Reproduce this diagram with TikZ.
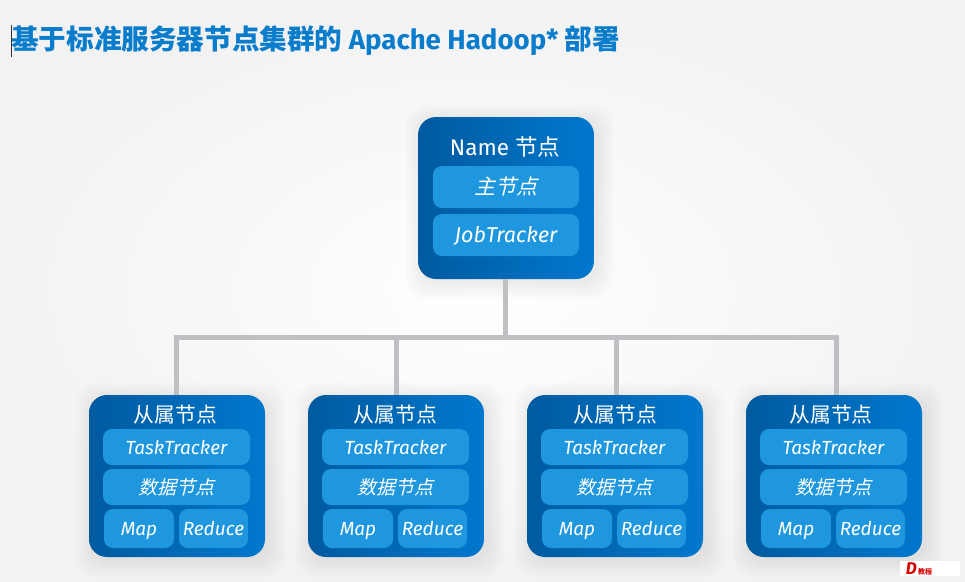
\documentclass[tikz,border=0pt]{standalone}
\usepackage{fontspec}
\setmainfont{Fira Sans}
\newfontfamily\cjk{Noto Sans CJK SC}
\newfontfamily\cjkit[FakeSlant=0.25]{Noto Sans CJK SC}
\definecolor{hbleft}{HTML}{005A9F}
\definecolor{hbright}{HTML}{0078CE}
\definecolor{hbinner}{HTML}{1F97DF}
\definecolor{hbline}{HTML}{BFC0C4}
\definecolor{hbtitle}{HTML}{0A7CCC}
\begin{document}
\begin{tikzpicture}[x=1pt,y=-1pt]
\tikzstyle{hbox}=[rectangle,rounded corners=18pt,minimum width=176pt,minimum height=162pt,left color=hbleft,right color=hbright,inner sep=0pt]
\tikzstyle{hpart}=[rectangle,rounded corners=9pt,fill=hbinner,text=white,inner sep=0pt,text height=16pt,text depth=2pt,font=\fontsize{19}{22}\itshape\selectfont]
\tikzstyle{hhead}=[text=white,inner sep=0pt]
\tikzstyle{hbus}=[draw=hbline,line width=5pt]
\useasboundingbox (0,0) rectangle (965,581);
\shade[inner color=white,outer color=black!5] (0,0) rectangle (965,581);
% soft shadows under the boxes
\foreach \cx/\cy in {506/198,177/476,396/476,615/476,834/476}
  \foreach \g in {16,13,10,7,4,1}
    \fill[black,opacity=0.011,rounded corners=20pt] (\cx-88-\g+4,\cy-81-\g+4) rectangle (\cx+88+\g+4,\cy+81+\g+4);
% title
\node[anchor=west,inner sep=0pt,text=hbtitle,font=\fontsize{27.6}{30}\selectfont\bfseries] (title) at (11,41) {{\cjk 基于标准服务器节点集群的} Apache Hadoop* {\cjk 部署}};
\coordinate (cursortop) at (11.5,25);
\coordinate (cursorend) at (11.5,57);
\draw[black!80,line width=0.7pt] (cursortop) -- (cursorend);
% name node
\node[hbox] (name) at (506,198) {};
\node[hhead,font=\fontsize{22.5}{26}\selectfont] (namehead) at (505,147) {Name {\cjk 节点}};
\node[hpart,minimum width=146pt,minimum height=42pt,font=\fontsize{21}{24}\itshape\selectfont] (master) at (506,187) {{\cjkit 主节点}};
\node[hpart,minimum width=146pt,minimum height=42pt,font=\fontsize{21.5}{24}\itshape\selectfont] (job) at (506,235) {JobTracker};
\coordinate (hub) at (505,337);
% slave nodes
\foreach \i/\cx/\hx/\lx in {1/177/-1.5/-1,2/396/-0.5/0,3/615/0.5/1,4/834/-3/2}{
  \node[hbox] (slave\i) at (\cx,476) {};
  \node[hhead,font=\fontsize{20.8}{22}\selectfont] (head\i) at (\cx+\hx,415) {\cjk 从属节点};
  \node[hpart,minimum width=147pt,minimum height=36pt] (task\i) at (\cx-0.5,447) {TaskTracker};
  \node[hpart,minimum width=147pt,minimum height=36pt] (data\i) at (\cx-0.5,487) {{\cjkit 数据节点}};
  \node[hpart,minimum width=70pt,minimum height=39pt] (map\i) at (\cx-38,528.5) {Map};
  \node[hpart,minimum width=69pt,minimum height=39pt] (reduce\i) at (\cx+36.5,528.5) {Reduce};
  \draw[hbus] (hub) -| ([xshift=\lx pt]slave\i.north);
}
\draw[hbus] (hub |- name.south) -- (hub);
% watermark
\node[fill=white,inner sep=0pt,minimum width=60pt,minimum height=15pt,text=red!85!black,font=\fontsize{17}{17}\bfseries\itshape\selectfont] (mark) at (930,568.5) {\hspace*{-22pt}D{\cjk\fontsize{7}{7}\selectfont\,教程}};
\end{tikzpicture}
\end{document}
